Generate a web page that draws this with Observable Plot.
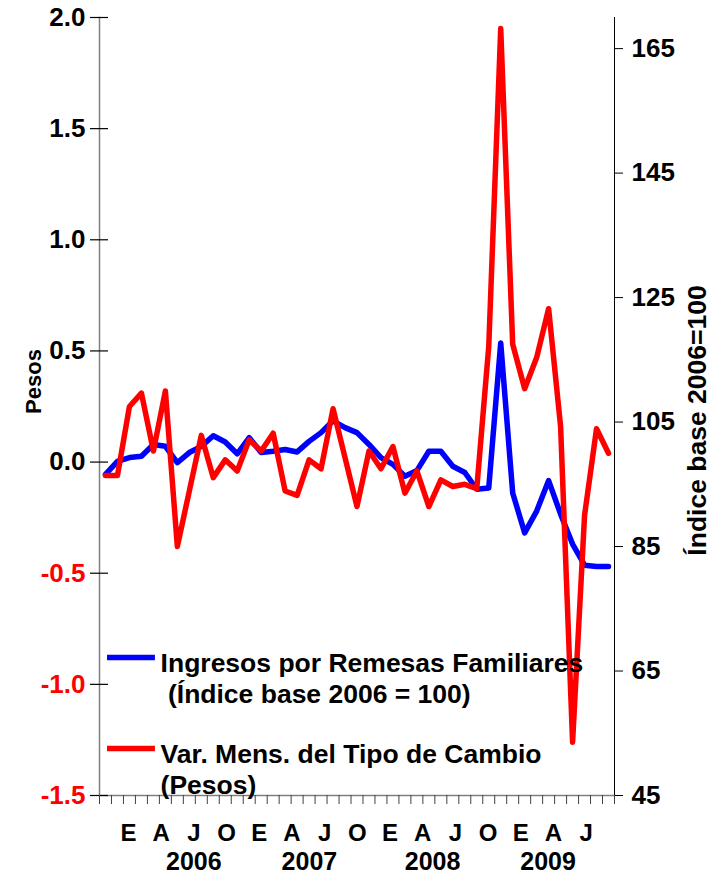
<!DOCTYPE html>
<html>
<head>
<meta charset="utf-8">
<script src="https://cdn.jsdelivr.net/npm/d3@7"></script>
<script src="https://cdn.jsdelivr.net/npm/@observablehq/plot@0.6"></script>
<style>
  html, body { margin: 0; padding: 0; background: #fff; }
  #chart svg { display: block; }
</style>
</head>
<body>
<div id="chart"></div>
<script>
// ---------- data (monthly, Jan 2006 – Jul 2009) ----------
const tipoCambioVar = [
  -0.06, -0.06, 0.25, 0.31, 0.05, 0.32, -0.38, -0.13, 0.12, -0.07, 0.01, -0.04,
  0.10, 0.05, 0.13, -0.13, -0.15, 0.01, -0.03, 0.24, 0.02, -0.20, 0.05, -0.03,
  0.07, -0.14, -0.04, -0.20, -0.08, -0.11, -0.10, -0.12, 0.52, 1.95, 0.53, 0.33,
  0.47, 0.69, 0.16, -1.26, -0.24, 0.15, 0.04
];
const remesasIndice = [
  96.6, 98.7, 99.3, 99.5, 101.4, 101.1, 98.5, 100.1, 101.1, 102.8, 101.8, 99.9,
  102.5, 100.1, 100.3, 100.6, 100.2, 101.9, 103.3, 105.2, 104.1, 103.3, 101.4, 99.3,
  98.2, 96.3, 97.2, 100.3, 100.3, 97.9, 96.9, 94.2, 94.4, 117.7, 93.6, 87.2,
  90.7, 95.6, 90.2, 85.4, 82.0, 81.8, 81.8
];
const monthLabels = ["E","A","J","O","E","A","J","O","E","A","J","O","E","A","J"];
const monthLabelMonth = [0,3,6,9,12,15,18,21,24,27,30,33,36,39,42];
const yearLabels = ["2006","2007","2008","2009"];
const yearLabelMonth = [6, 16.6, 27.9, 38.5];
const leftTicks = [-1.5, -1.0, -0.5, 0.0, 0.5, 1.0, 1.5, 2.0];
const rightTicks = [45, 65, 85, 105, 125, 145, 165];
const legendLabels = [
  "Ingresos por Remesas Familiares\n (Índice base 2006 = 100)",
  "Var. Mens. del Tipo de Cambio\n(Pesos)"
];

// ---------- scales / layout ----------
const leftDomain = [-1.5, 2.0];
const rightDomain = [45, 170];
const n = tipoCambioVar.length;
const toLeft = v => leftDomain[0] + (v - rightDomain[0]) / (rightDomain[1] - rightDomain[0]) * (leftDomain[1] - leftDomain[0]);
const labelStart = 1.92, labelStep = 0.91;   // placement of the month text row
const FONT = "'Liberation Sans', Arial, Helvetica, sans-serif";
const BLUE = "#0000ff", RED = "#ff0000";

const width = 721, height = 881;
const mL = 99, mR = 107, mT = 17, mB = 86;
const pxPerX = (width - mL - mR) / n;
const tickHalf = 9 / pxPerX;

const blueData = remesasIndice.map((v, i) => ({i, v: toLeft(v)}));
const redData = tipoCambioVar.map((v, i) => ({i, v}));
const bounds = d3.range(n + 1).map(k => k - 0.5);

const legendY = [-0.879, -1.289];
const legendX1 = 0.17, legendX2 = 4.17, legendTextX = 4.6;

const chart = Plot.plot({
  width, height,
  marginLeft: mL, marginRight: mR, marginTop: mT, marginBottom: mB,
  x: {domain: [-0.5, n - 0.5], axis: null},
  y: {domain: leftDomain, axis: null},
  style: {fontFamily: FONT, fontWeight: "bold", background: "#fff", color: "#000", overflow: "visible"},
  marks: [
    Plot.frame({anchor: "left", stroke: "#808080", strokeWidth: 1.5}),
    Plot.frame({anchor: "bottom", stroke: "#808080", strokeWidth: 1.5}),
    Plot.frame({anchor: "right", stroke: "#000", strokeWidth: 1}),
    // left crossing ticks
    Plot.ruleY(leftTicks, {y: d => d, x1: -0.5 - tickHalf, x2: -0.5 + tickHalf, stroke: "#000", strokeWidth: 1.2, clip: false}),
    // left tick labels (black for >= 0, red for negatives)
    Plot.text(leftTicks.filter(d => d >= 0), {y: d => d, frameAnchor: "left", dx: -14, textAnchor: "end", text: d => d.toFixed(1), fontSize: 26, fill: "#000"}),
    Plot.text(leftTicks.filter(d => d < 0), {y: d => d, frameAnchor: "left", dx: -14, textAnchor: "end", text: d => d.toFixed(1), fontSize: 26, fill: RED}),
    // right ticks & labels
    Plot.ruleY(rightTicks, {y: d => toLeft(d), x1: n - 0.5, x2: n - 0.5 + tickHalf, stroke: "#000", strokeWidth: 1, clip: false}),
    Plot.text(rightTicks, {y: d => toLeft(d), frameAnchor: "right", dx: 17, textAnchor: "start", text: d => String(d), fontSize: 26, fill: "#000"}),
    // x ticks
    Plot.ruleX(bounds, {x: d => d, y1: leftDomain[0], y2: leftDomain[0], insetBottom: -9, stroke: "#404040", strokeWidth: 1}),
    // month & year labels
    Plot.text(monthLabels, {x: (d, i) => labelStart + monthLabelMonth[i] * labelStep, frameAnchor: "bottom", dy: 45, text: d => d, fontSize: 24, fill: "#000"}),
    Plot.text(yearLabels, {x: (d, i) => labelStart + yearLabelMonth[i] * labelStep, frameAnchor: "bottom", dy: 74, text: d => d, fontSize: 25, fill: "#000"}),
    // axis titles
    Plot.text(["Pesos"], {frameAnchor: "left", dx: -66, dy: -25, rotate: -90, textAnchor: "middle", fontSize: 22, fill: "#000"}),
    Plot.text(["Índice base 2006=100"], {frameAnchor: "right", dx: 83, dy: 14, rotate: -90, textAnchor: "middle", fontSize: 26.5, fill: "#000"}),
    // series
    Plot.line(blueData, {x: "i", y: "v", stroke: BLUE, strokeWidth: 5.5}),
    Plot.line(redData, {x: "i", y: "v", stroke: RED, strokeWidth: 5.5}),
    // legend
    Plot.ruleY([0, 1], {y: i => legendY[i], x1: legendX1, x2: legendX2, stroke: i => [BLUE, RED][i], strokeWidth: 5.5}),
    Plot.text([0, 1], {x: legendTextX, y: i => legendY[i], text: i => legendLabels[i], textAnchor: "start", lineAnchor: "top", dy: -7, lineHeight: 1.15, fontSize: 26.5, fill: "#000"})
  ]
});
document.getElementById("chart").appendChild(chart);
</script>
</body>
</html>
